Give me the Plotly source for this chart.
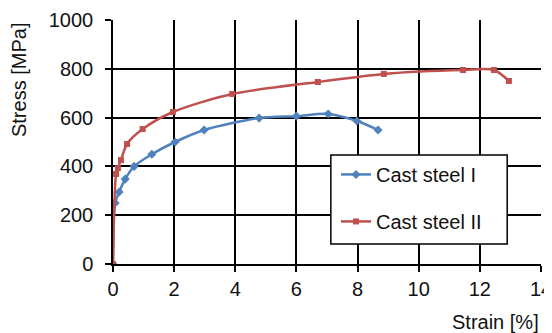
import plotly.graph_objects as go

strain_1 = [0, 0.07, 0.2, 0.4, 0.69, 1.27, 2.03, 2.98, 4.78, 6.0, 7.04, 7.98, 8.67]
stress_1 = [0, 250, 295, 348, 400, 450, 500, 549, 598, 606, 615, 586, 549]

strain_2 = [0, 0.1, 0.16, 0.26, 0.46, 0.97, 1.96, 3.9, 6.7, 8.86, 11.45, 12.46, 12.95]
stress_2 = [0, 369, 393, 426, 492, 553, 623, 697, 746, 779, 795, 795, 750]

names = ["Cast steel I", "Cast steel II"]
x_ticks = [0, 2, 4, 6, 8, 10, 12, 14]
y_ticks = [0, 200, 400, 600, 800, 1000]

FONT = "Liberation Sans, Arial, sans-serif"

fig = go.Figure()
fig.add_trace(go.Scatter(
    x=strain_1, y=stress_1, name=names[0], mode="lines+markers",
    line=dict(color="#4F81BD", width=2.5, shape="spline", smoothing=0.8),
    marker=dict(symbol="diamond", size=7, color="#4F81BD"),
    legendgroup="a"))
fig.add_trace(go.Scatter(
    x=strain_2, y=stress_2, name=names[1], mode="lines+markers",
    line=dict(color="#C0504D", width=2.5, shape="spline", smoothing=0.8),
    marker=dict(symbol="square", size=6, color="#C0504D"),
    legendgroup="b"))

fig.update_layout(
    width=544, height=325,
    margin=dict(l=105, r=11, t=12, b=69, autoexpand=False),
    paper_bgcolor="white", plot_bgcolor="white",
    font=dict(family=FONT, size=20, color="#111111"),
    showlegend=True,
    legend=dict(
        x=0.521, y=0.447, xanchor="left", yanchor="top",
        bgcolor="rgba(0,0,0,0)", borderwidth=0,
        font=dict(size=20), tracegroupgap=18, itemwidth=30,
    ),
    shapes=[dict(type="rect", xref="paper", yref="paper",
                 x0=0.509, x1=0.921, y0=0.082, y1=0.447,
                 fillcolor="white", line=dict(color="black", width=1.5),
                 layer="above")],
    xaxis=dict(
        range=[0, 14], tickvals=x_ticks, ticktext=[str(v) for v in x_ticks],
        showgrid=True, gridcolor="black", gridwidth=1.5,
        showline=True, linecolor="black", linewidth=1.5,
        ticks="outside", ticklen=6, tickcolor="black", tickwidth=1.5,
        zeroline=False, ticklabeloverflow="allow",
    ),
    yaxis=dict(
        range=[0, 1000], tickvals=y_ticks, ticktext=[str(v) for v in y_ticks],
        showgrid=True, gridcolor="black", gridwidth=1.5,
        showline=True, linecolor="black", linewidth=1.5,
        ticks="outside", ticklen=6, tickcolor="black", tickwidth=1.5,
        zeroline=False, ticklabelstandoff=8,
    ),
    annotations=[
        dict(text="Strain [%]", xref="paper", yref="paper", x=1, y=0,
             xanchor="right", yanchor="middle", yshift=-58, showarrow=False,
             font=dict(size=20)),
        dict(text="Stress [MPa]", xref="paper", yref="paper", x=0, y=0.754,
             xanchor="center", yanchor="middle", xshift=-94, textangle=-90,
             showarrow=False, font=dict(size=20)),
    ],
)

fig.write_html("out.html")
